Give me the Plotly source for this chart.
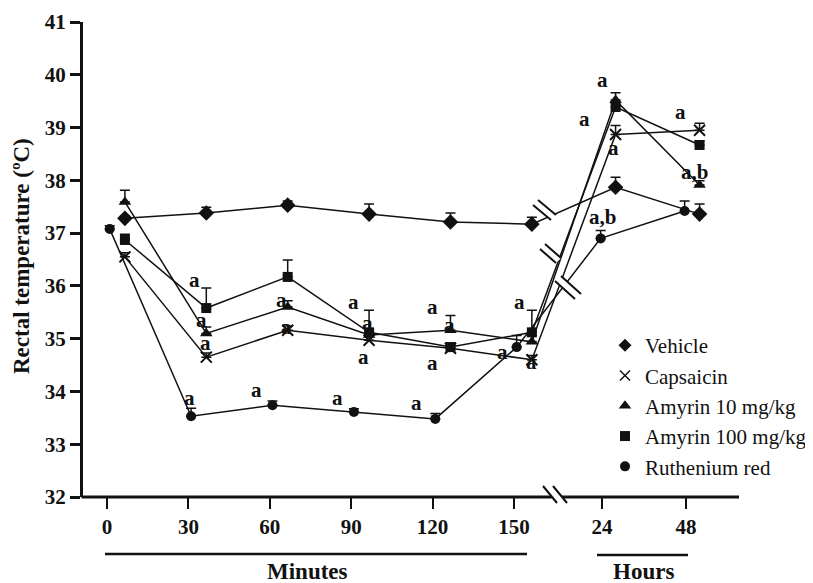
import plotly.graph_objects as go

# ---------------- data ----------------
time_labels = ['0', '30', '60', '90', '120', '150', '24', '48']
minutes = [0, 30, 60, 90, 120, 150]
hours = [24, 48]

series_names = ['Vehicle', 'Capsaicin', 'Amyrin 10 mg/kg', 'Amyrin 100 mg/kg', 'Ruthenium red']

vehicle = [37.28, 37.38, 37.53, 37.36, 37.21, 37.17, 37.87, 37.36]
vehicle_err = [0.05, 0.11, 0.08, 0.19, 0.17, 0.13, 0.19, 0.19]
capsaicin = [36.55, 34.65, 35.16, 34.97, 34.82, 34.60, 38.87, 38.95]
capsaicin_err = [0.08, 0.08, 0.08, 0.08, 0.08, 0.08, 0.17, 0.13]
amyrin10 = [37.59, 35.10, 35.60, 35.07, 35.16, 34.94, 39.52, 37.91]
amyrin10_err = [0.22, 0.12, 0.12, 0.12, 0.28, 0.12, 0.14, 0.08]
amyrin100 = [36.87, 35.58, 36.17, 35.12, 34.84, 35.12, 39.39, 38.67]
amyrin100_err = [0.11, 0.38, 0.32, 0.42, 0.08, 0.42, 0.08, 0.08]
ruthenium = [37.08, 33.53, 33.74, 33.61, 33.48, 34.84, 36.90, 37.42]
ruthenium_err = [0.06, 0.15, 0.08, 0.06, 0.10, 0.22, 0.15, 0.19]

# significance labels: (series index, time index, text, dx, dy) offsets in axis units
sig_labels = [
    (3, 1, 'a', -4.2, 0.53), (2, 1, 'a', -1.9, 0.25), (1, 1, 'a', -0.4, 0.27), (4, 1, 'a', -0.6, 0.35),
    (2, 2, 'a', -2.1, 0.13), (1, 2, 'a', -0.3, 0.06), (4, 2, 'a', -6.0, 0.29),
    (3, 3, 'a', -5.9, 0.57), (1, 3, 'a', -0.4, 0.33), (1, 3, 'a', -2.2, -0.32), (4, 3, 'a', -5.9, 0.27),
    (2, 4, 'a', -6.8, 0.44), (2, 4, 'a', -0.5, 0.10), (3, 4, 'a', -6.8, -0.30), (4, 4, 'a', -7.1, 0.30),
    (3, 5, 'a', -4.6, 0.57), (4, 5, 'a', -5.3, -0.09), (1, 5, 'a', -0.3, -0.04),
    (2, 6, 'a', -5.0, 0.38), (2, 6, 'a', -11.3, -0.36), (1, 6, 'a', -0.7, -0.26),
    (3, 7, 'a', -7.1, 0.62), (2, 7, 'a,b', -1.8, 0.25), (4, 6, 'a,b', 0.8, 0.40),
]

# ---------------- scales ----------------
def hour_pos(h):
    return 151.5 + h * 1.29

tick_pos = minutes + [hour_pos(h) for h in hours]
offsets_min = [6.6, 6.6, 6.6, 6.6, 1.0]
offsets_hr = [5.0, 5.0, 5.0, 5.0, -0.5]

def xs(i):
    return [m + offsets_min[i] for m in minutes] + [hour_pos(h) + offsets_hr[i] for h in hours]

values = [vehicle, capsaicin, amyrin10, amyrin100, ruthenium]
errors = [vehicle_err, capsaicin_err, amyrin10_err, amyrin100_err, ruthenium_err]
symbols = ['diamond', 'x-thin', 'triangle-up', 'square', 'circle']
sizes = [12, 11, 11, 10, 10]
leg_sizes = [10, 10, 11, 10, 10]

INK = '#111111'
SERIF = 'Liberation Serif'

fig = go.Figure()
for i in range(5):
    fig.add_trace(go.Scatter(
        x=xs(i), y=values[i], mode='lines+markers', showlegend=False,
        line=dict(color=INK, width=1.5),
        marker=dict(symbol=symbols[i], size=sizes[i], color=INK,
                    line=dict(color=INK, width=2 if symbols[i] == 'x-thin' else 0)),
        error_y=dict(type='data', symmetric=False, array=errors[i],
                     arrayminus=[0] * len(errors[i]), width=5, thickness=1.5, color=INK),
        name=series_names[i]))
for i in range(5):
    fig.add_trace(go.Scatter(
        x=[None], y=[None], mode='markers', name=series_names[i], showlegend=True,
        marker=dict(symbol=symbols[i], size=leg_sizes[i], color=INK,
                    line=dict(color=INK, width=1.5 if symbols[i] == 'x-thin' else 0))))

# ---------------- layout geometry (screen pixels; page body has an 8px margin) ----------------
BODY = 8
PL, PT, PW, PH = 83, 22, 656, 475
FW, FH = 813, 583 - BODY

def pp(px, py):
    return (px - PL) / PW, (PT + PH - py) / PH

shapes = []

def pline(x0, y0, x1, y1, w=2, color=INK):
    a = pp(x0, y0); b = pp(x1, y1)
    shapes.append(dict(type='line', xref='paper', yref='paper', x0=a[0], y0=a[1], x1=b[0], y1=b[1],
                       line=dict(color=color, width=w), layer='above'))

def break_mark(s1, s2):
    pts = [pp(s1[0], s1[1]), pp(s1[2], s1[3]), pp(s2[2], s2[3]), pp(s2[0], s2[1])]
    path = 'M ' + ' L '.join(f'{p[0]},{p[1]}' for p in pts) + ' Z'
    shapes.append(dict(type='path', xref='paper', yref='paper', path=path,
                       fillcolor='white', line=dict(width=0), layer='above'))
    pline(*s1, w=2)
    pline(*s2, w=2)

# x axis line with break
pline(PL - 1.5, 497, 552, 497, w=3)
pline(562, 497, 739, 497, w=3)
break_mark((543, 486, 557, 503), (553, 486, 567, 503))
# series breaks
break_mark((533, 205, 551, 220), (538, 200, 556, 215))
break_mark((540, 249, 556, 263), (545, 244, 561, 258))
break_mark((555, 281, 575, 299), (561, 276, 581, 294))
# bracket lines under labels
pline(105, 554, 527, 554, w=2.5)
pline(597, 555, 688, 555, w=2.5)

annotations = []
for (si, ti, txt, dx, dy) in sig_labels:
    annotations.append(dict(x=xs(si)[ti] + dx, y=values[si][ti] + dy, xref='x', yref='y', text=txt,
                            showarrow=False, font=dict(family=SERIF, size=21, color=INK, weight='bold')))

def paper_text(px, py, text, angle=0, size=23):
    x, y = pp(px, py)
    annotations.append(dict(x=x, y=y, xref='paper', yref='paper', text=text, textangle=angle,
                            xanchor='center', yanchor='middle', showarrow=False,
                            font=dict(family=SERIF, size=size, color=INK, weight='bold')))

paper_text(307, 571, 'Minutes')
paper_text(643, 571, 'Hours')
paper_text(21, 256, 'Rectal temperature (ºC)', angle=-90)

lx, ly = pp(605, 325)
fig.update_layout(
    width=FW, height=FH,
    margin=dict(l=PL - BODY, r=FW - (PL - BODY) - PW, t=PT - BODY, b=FH - (PT - BODY) - PH, autoexpand=False),
    paper_bgcolor='white', plot_bgcolor='white',
    shapes=shapes, annotations=annotations,
    legend=dict(x=lx, y=ly, xanchor='left', yanchor='top', bgcolor='rgba(0,0,0,0)',
                font=dict(family=SERIF, size=21, color=INK)),
    xaxis=dict(range=[(PL - 107) / 2.713, (739 - 107) / 2.713], showgrid=False, zeroline=False,
               showline=False, tickmode='array', tickvals=tick_pos, ticktext=time_labels,
               ticks='outside', ticklen=11, tickwidth=2, tickcolor=INK,
               tickfont=dict(family=SERIF, size=21, color=INK, weight='bold')),
    yaxis=dict(range=[32, 41], showgrid=False, zeroline=False, showline=True, linewidth=3,
               linecolor=INK, tickmode='array', tickvals=list(range(32, 42)),
               ticks='outside', ticklen=10, tickwidth=2.5, tickcolor=INK,
               tickfont=dict(family=SERIF, size=21, color=INK, weight='bold')),
)

fig.write_html('out.html')
